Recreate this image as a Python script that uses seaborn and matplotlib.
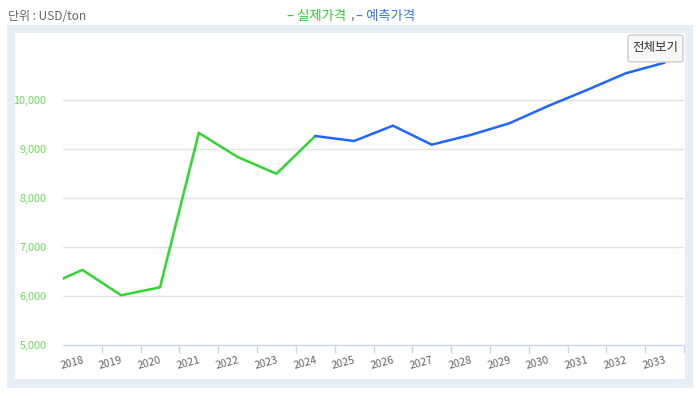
import matplotlib
matplotlib.use("Agg")
import matplotlib.pyplot as plt
from matplotlib.patches import Rectangle, FancyBboxPatch
import seaborn as sns
import pandas as pd

# ---- data ----
year_labels = ["2018", "2019", "2020", "2021", "2022", "2023", "2024", "2025",
               "2026", "2027", "2028", "2029", "2030", "2031", "2032", "2033"]
actual_years = [2017, 2018, 2019, 2020, 2021, 2022, 2023, 2024]
actual_values = [6180, 6533, 6014, 6178, 9328, 8836, 8494, 9265]
forecast_years = [2024, 2025, 2026, 2027, 2028, 2029, 2030, 2031, 2032, 2033]
forecast_values = [9265, 9163, 9476, 9088, 9286, 9524, 9878, 10204, 10545, 10761]
y_ticks = [5000, 6000, 7000, 8000, 9000, 10000]

first_year = int(year_labels[0])
df = pd.concat([
    pd.DataFrame({"year": actual_years, "price": actual_values, "kind": "실제가격"}),
    pd.DataFrame({"year": forecast_years, "price": forecast_values, "kind": "예측가격"}),
], ignore_index=True)
df["pos"] = df["year"] - first_year

sns.set_style("white")
plt.rcParams["font.family"] = ["Noto Sans CJK KR", "DejaVu Sans"]

W, H = 700, 395
fig = plt.figure(figsize=(W / 100, H / 100), dpi=100)
fig.patch.set_facecolor("white")

def fr(x0, y0, x1, y1):
    return (x0 / W, 1 - y1 / H), (x1 - x0) / W, (y1 - y0) / H

(xy, w, h) = fr(7, 25, 693, 388)
fig.patches.append(Rectangle(xy, w, h, transform=fig.transFigure, facecolor="#e6eef8",
                             edgecolor="none", zorder=-10))
(xy, w, h) = fr(15, 33, 685, 379)
fig.patches.append(Rectangle(xy, w, h, transform=fig.transFigure, facecolor="white",
                             edgecolor="none", zorder=-9))

ax_l, ax_r, ax_t, ax_b = 63, 684, 38, 345
ax = fig.add_axes([ax_l / W, 1 - ax_b / H, (ax_r - ax_l) / W, (ax_b - ax_t) / H])
ax.set_facecolor("none")
ax.set_zorder(2)

sns.lineplot(data=df, x="pos", y="price", hue="kind",
             palette={"실제가격": "#2fd62f", "예측가격": "#1f66ff"},
             linewidth=1.8, legend=False, ax=ax, estimator=None, sort=False)

n = len(year_labels)
ax.set_xlim(-0.5, n - 0.5)
ax.set_ylim(5000, 11265)
ax.set_yticks(y_ticks)
ax.set_yticklabels([f"{v:,}" for v in y_ticks], color="#66dd55", fontsize=7.8)
ax.yaxis.grid(True, color="#e3e3e3", linewidth=1)
ax.set_axisbelow(True)
ax.tick_params(axis="y", length=0, pad=12)

ax.set_xticks(range(n))
ax.set_xticklabels(year_labels, rotation=15, ha="right", rotation_mode="anchor",
                   color="#666666", fontsize=7.8)
ax.tick_params(axis="x", which="major", length=0, pad=7)
ax.set_xticks([i + 0.5 for i in range(n)], minor=True)
ax.tick_params(axis="x", which="minor", bottom=True, length=6, color="#ccd6eb", width=1)

for s in ["top", "right", "left"]:
    ax.spines[s].set_visible(False)
ax.spines["bottom"].set_color("#ccd6eb")
ax.spines["bottom"].set_linewidth(1)
ax.set_xlabel("")
ax.set_ylabel("")

# header texts
fig.text(8 / W, 1 - 16 / H, "단위 : USD/ton", color="#666666", fontsize=8.6, va="center")
fig.text(346 / W, 1 - 16 / H, "– 실제가격", color="#33cc33", fontsize=9.6, va="center", ha="right")
fig.text(350 / W, 1 - 16 / H, ",", color="#666666", fontsize=9, va="center")
fig.text(356 / W, 1 - 16 / H, "– 예측가격", color="#3377ee", fontsize=9.6, va="center")

# button
(xy, w, h) = fr(628, 35, 683, 62)
fig.patches.append(FancyBboxPatch(xy, w, h, boxstyle="round,pad=0,rounding_size=0.005",
                                  transform=fig.transFigure, facecolor="#f7f7f7",
                                  edgecolor="#cccccc", linewidth=1, zorder=4))
button = fig.text(655.5 / W, 1 - 48 / H, "전체보기", color="#333333", fontsize=9,
                  ha="center", va="center", zorder=6)
fig.patches[-1].set_zorder(5)
ax.set_zorder(2)
fig.patches[-1].set_zorder(3)

fig.savefig("out.png", dpi=100)
